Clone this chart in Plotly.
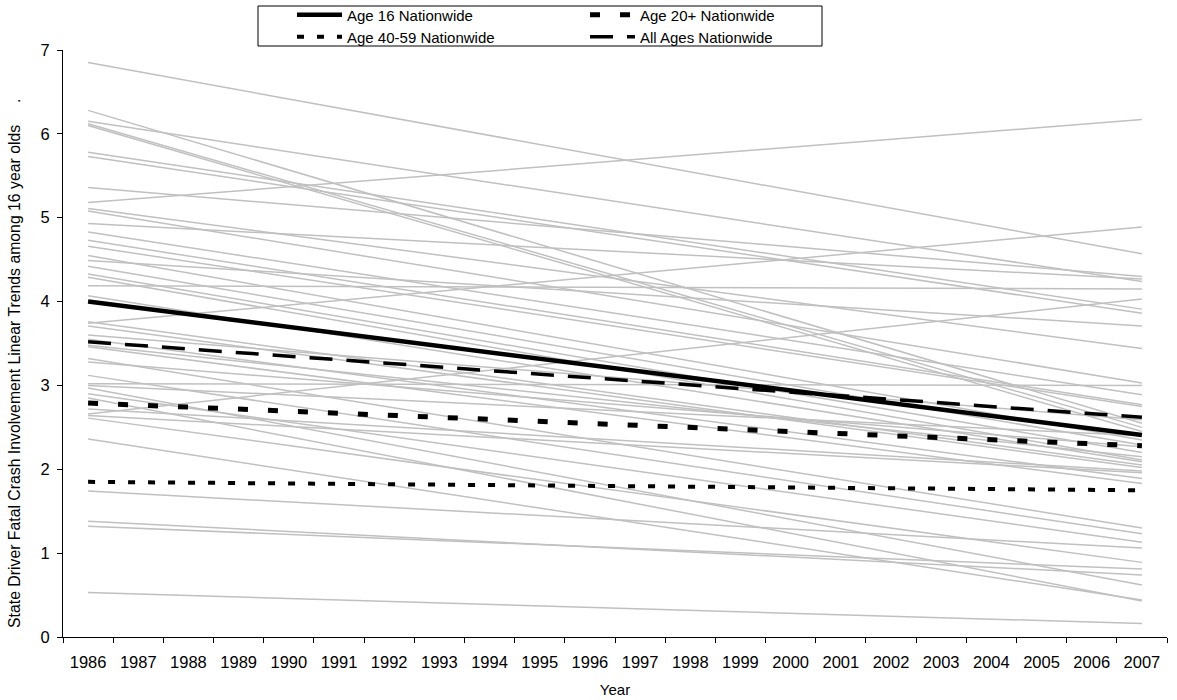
import plotly.graph_objects as go

years = [str(y) for y in range(1986, 2008)]

# State linear trends: value in 1986 and value in 2007
state_start_1986 = [6.85, 6.28, 6.15, 6.12, 6.10, 5.78, 5.73, 5.36, 5.18, 5.11,
                    5.08, 4.93, 4.83, 4.73, 4.66, 4.55, 4.49, 4.42, 4.33, 4.29,
                    4.19, 4.07, 3.76, 3.74, 3.71, 3.60, 3.55, 3.48, 3.46, 3.32,
                    3.28, 3.12, 3.02, 3.00, 2.97, 2.90, 2.85, 2.72, 2.66, 2.64,
                    2.61, 2.36, 1.74, 1.38, 1.32, 0.53]
state_end_2007 = [4.57, 2.55, 4.24, 2.50, 2.45, 3.91, 3.86, 4.30, 6.17, 3.44,
                  3.03, 4.27, 2.89, 2.77, 2.75, 2.35, 3.71, 2.29, 2.20, 2.11,
                  4.15, 2.09, 2.05, 4.89, 2.02, 2.59, 1.89, 2.15, 1.83, 1.30,
                  2.27, 1.23, 3.00, 2.40, 0.62, 1.13, 0.43, 1.98, 4.03, 1.96,
                  0.89, 0.44, 1.06, 0.74, 0.81, 0.16]

national_names = ["Age 16 Nationwide", "Age 20+ Nationwide",
                  "Age 40-59 Nationwide", "All Ages Nationwide"]
national_start_1986 = [4.00, 2.79, 1.85, 3.52]
national_end_2007 = [2.41, 2.28, 1.75, 2.62]

y_title = "State Driver Fatal Crash Involvement Linear Trends among 16 year olds"

FONT = "Liberation Sans, Arial, sans-serif"
fig = go.Figure()

for s, e in zip(state_start_1986, state_end_2007):
    fig.add_trace(go.Scatter(
        x=[years[0], years[-1]], y=[s, e], mode="lines",
        line=dict(color="#c0c0c0", width=1.5),
        showlegend=False, hoverinfo="skip"))

styles = {
    "Age 16 Nationwide": dict(color="black", width=4.5, dash="solid"),
    "Age 20+ Nationwide": dict(color="black", width=5, dash="10px,20px"),
    "Age 40-59 Nationwide": dict(color="black", width=4, dash="7px,13px"),
    "All Ages Nationwide": dict(color="black", width=3.5, dash="23px,14px"),
}
legend_of = {"Age 16 Nationwide": "legend", "Age 20+ Nationwide": "legend",
             "Age 40-59 Nationwide": "legend2", "All Ages Nationwide": "legend2"}

for name, s, e in zip(national_names, national_start_1986, national_end_2007):
    fig.add_trace(go.Scatter(
        x=[years[0], years[-1]], y=[s, e], mode="lines", name=name,
        line=styles[name], legend=legend_of[name]))

L, R, T, B = 63, 10, 50, 63
W, H = 1177, 700
pw, ph = W - L - R, H - T - B

def px_x(p):
    return (p - L) / pw

def px_y(p):
    return (H - B - p) / ph

legend_common = dict(orientation="h", xanchor="left", yanchor="middle",
                     bgcolor="rgba(0,0,0,0)", borderwidth=0,
                     font=dict(family=FONT, size=15, color="black"),
                     itemwidth=45, entrywidth=233, itemclick=False,
                     itemdoubleclick=False)

fig.update_layout(
    width=W, height=H,
    margin=dict(l=L, r=R, t=T, b=B, autoexpand=False),
    paper_bgcolor="white", plot_bgcolor="white",
    font=dict(family=FONT, size=15, color="black"),
    legend=dict(x=px_x(292), y=px_y(15), **legend_common),
    legend2=dict(x=px_x(292), y=px_y(37), **legend_common),
    shapes=[dict(type="rect", xref="paper", yref="paper",
                 x0=px_x(258), x1=px_x(822), y0=px_y(46), y1=px_y(6),
                 line=dict(color="black", width=1), fillcolor="rgba(0,0,0,0)")],
    xaxis=dict(type="category", categoryorder="array", categoryarray=years,
               range=[-0.5, len(years) - 0.5], tickson="boundaries",
               ticks="outside", ticklen=5, tickcolor="black",
               showline=True, linecolor="black", linewidth=1,
               showgrid=False, zeroline=False, ticklabelstandoff=10,
               tickfont=dict(family=FONT, size=16.5),
               title=dict(text="Year", font=dict(family=FONT, size=15), standoff=14)),
    yaxis=dict(range=[0, 7], dtick=1, ticks="outside", ticklen=5,
               tickcolor="black", showline=True, linecolor="black", linewidth=1,
               showgrid=False, zeroline=False, ticklabelstandoff=4,
               tickfont=dict(family=FONT, size=16.5),
               title=dict(text=y_title + "\u00a0" * 5 + "." + "\u00a0" * 9 + "\u200b",
                          font=dict(family=FONT, size=15.8), standoff=15)),
)

fig.write_html("out.html")
